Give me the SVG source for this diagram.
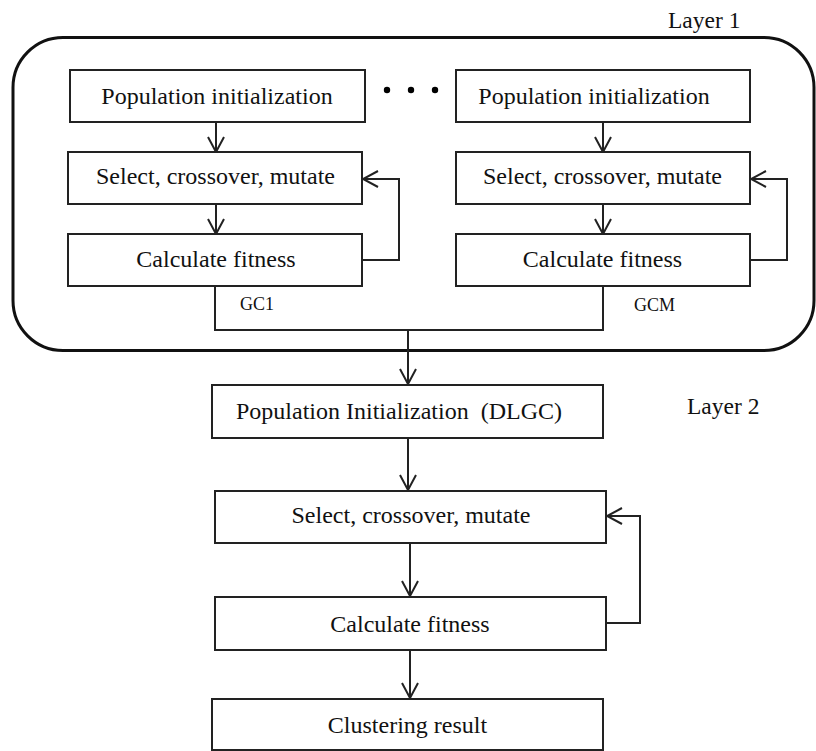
<svg xmlns="http://www.w3.org/2000/svg" width="816" height="751" viewBox="0 0 816 751">
  <defs>
    <style>
      .box { fill: #fff; stroke: #222; stroke-width: 2; }
      .frame { fill: none; stroke: #111; stroke-width: 3; }
      text { font-family: 'Liberation Serif', 'DejaVu Serif', serif; fill: #111; }
      .lbl { font-size: 24px; text-anchor: middle; }
      .tag { font-size: 18px; }
      .layer { font-size: 23.5px; }
      .link { fill: none; stroke: #222; stroke-width: 2; }
      .arrow { marker-end: url(#open); }
    </style>
    <marker id="open" viewBox="0 0 18 18" refX="16" refY="9" markerWidth="18" markerHeight="18" markerUnits="userSpaceOnUse" orient="auto">
      <path d="M1,1 L16,9 L1,17" fill="none" stroke="#222" stroke-width="2"/>
    </marker>
  </defs>

  <rect width="816" height="751" fill="#fff"/>

  <!-- Layer 1 enclosure -->
  <g id="layer1">
    <rect class="frame" x="13" y="37.5" width="801" height="313" rx="50" ry="50"/>
    <text class="layer" x="668" y="28">Layer 1</text>
  </g>
  <g id="ellipsis">
    <circle cx="387" cy="90" r="3.2" fill="#000"/>
    <circle cx="411" cy="90" r="3.2" fill="#000"/>
    <circle cx="435" cy="90" r="3.2" fill="#000"/>
  </g>
  <g id="layer2-label">
    <text class="layer" x="687" y="414">Layer 2</text>
  </g>

  <!-- connectors -->
  <g id="connectors">
    <path class="link arrow" d="M216,122 V152"/>
    <path class="link arrow" d="M216,204 V234"/>
    <path class="link arrow" d="M603,122 V152"/>
    <path class="link arrow" d="M603,204 V234"/>
    <path class="link arrow" d="M362,260 H399 V179 H363"/>
    <path class="link arrow" d="M750,260 H787 V179 H751"/>
    <path class="link" d="M215,286 V330 H603 V286"/>
    <path class="link arrow" d="M408,330 V384"/>
    <path class="link arrow" d="M408,438 V490"/>
    <path class="link arrow" d="M410,543 V596"/>
    <path class="link arrow" d="M410,650 V698"/>
    <path class="link arrow" d="M606,623 H640 V516 H607"/>
    <text class="tag" x="240" y="310">GC1</text>
    <text class="tag" x="634" y="311">GCM</text>
  </g>

  <!-- first sub-population -->
  <g id="gc1-init">
    <rect class="box" x="70" y="70" width="295" height="52"/>
    <text class="lbl" x="217" y="104">Population initialization</text>
  </g>
  <g id="gc1-evolve">
    <rect class="box" x="68" y="152" width="294" height="52"/>
    <text class="lbl" x="215.5" y="184">Select, crossover, mutate</text>
  </g>
  <g id="gc1-fitness">
    <rect class="box" x="68" y="234" width="294" height="52"/>
    <text class="lbl" x="216" y="267">Calculate fitness</text>
  </g>

  <!-- M-th sub-population -->
  <g id="gcm-init">
    <rect class="box" x="456" y="70" width="294" height="52"/>
    <text class="lbl" x="594" y="104">Population initialization</text>
  </g>
  <g id="gcm-evolve">
    <rect class="box" x="456" y="152" width="294" height="52"/>
    <text class="lbl" x="602.5" y="184">Select, crossover, mutate</text>
  </g>
  <g id="gcm-fitness">
    <rect class="box" x="456" y="234" width="294" height="52"/>
    <text class="lbl" x="602.5" y="267">Calculate fitness</text>
  </g>

  <!-- second layer -->
  <g id="dlgc-init">
    <rect class="box" x="212" y="385" width="391" height="53"/>
    <text class="lbl" x="399" y="419" xml:space="preserve">Population Initialization  (DLGC)</text>
  </g>
  <g id="dlgc-evolve">
    <rect class="box" x="215" y="491" width="391" height="52"/>
    <text class="lbl" x="411" y="523">Select, crossover, mutate</text>
  </g>
  <g id="dlgc-fitness">
    <rect class="box" x="215" y="597" width="391" height="53"/>
    <text class="lbl" x="410" y="632">Calculate fitness</text>
  </g>
  <g id="result">
    <rect class="box" x="212" y="699" width="391" height="51"/>
    <text class="lbl" x="407.5" y="733">Clustering result</text>
  </g>
</svg>
